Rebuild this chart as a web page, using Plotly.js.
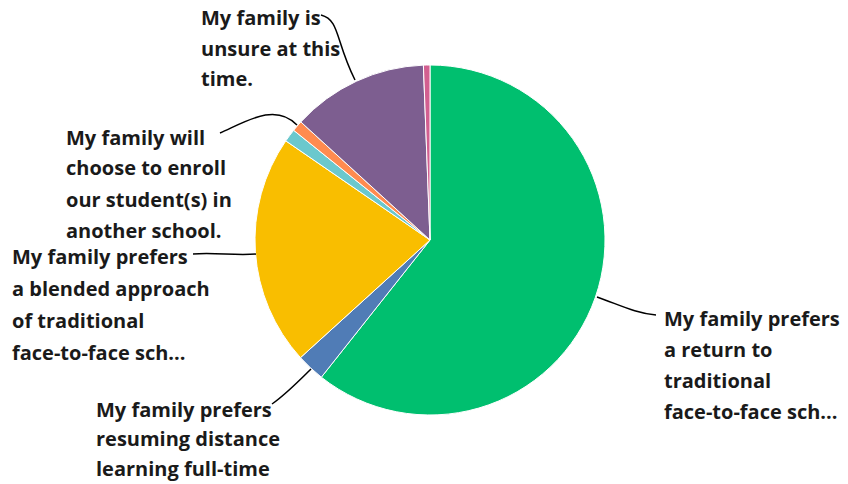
<!DOCTYPE html>
<html>
<head>
<meta charset="utf-8">
<script src="https://cdn.plot.ly/plotly-3.0.1.min.js"></script>
<style>html,body{margin:0;padding:0;background:#fff;}#chart{width:848px;height:484px;}</style>
</head>
<body>
<div id="chart"></div>
<script>
// Data
const categories = [
  "My family prefers a return to traditional face-to-face sch...",
  "My family prefers resuming distance learning full-time",
  "My family prefers a blended approach of traditional face-to-face sch...",
  "Other",
  "My family will choose to enroll our student(s) in another school.",
  "My family is unsure at this time.",
  "No response"
];
const values = [60.6, 2.6, 21.3, 1.2, 1.0, 12.6, 0.6];
const colors = ["#00BF6F", "#507CB6", "#F9BE00", "#6BC8CD", "#FF8B4F", "#7D5E90", "#D25F90"];

// Wrapped label lines (as shown)
const labelGreen = ["My family prefers", "a return to", "traditional", "face-to-face sch..."];
const labelBlue = ["My family prefers", "resuming distance", "learning full-time"];
const labelYellow = ["My family prefers", "a blended approach", "of traditional", "face-to-face sch..."];
const labelEnroll = ["My family will", "choose to enroll", "our student(s) in", "another school."];
const labelUnsure = ["My family is", "unsure at this", "time."];

const W = 848, H = 484;
const px = x => x / W;
const py = y => 1 - y / H;

const cx = 430, cy = 240, r = 175;

const annotations = [];
function addLabel(lines, x, y0, step) {
  lines.forEach((t, i) => {
    annotations.push({
      xref: 'paper', yref: 'paper', x: px(x), y: py(y0 + i * step),
      xanchor: 'left', yanchor: 'middle', showarrow: false, align: 'left',
      text: t,
      font: {family: '"Open Sans", sans-serif', size: 20, color: '#1a1a1a', weight: 700}
    });
  });
}
addLabel(labelGreen, 662, 318, 31);
addLabel(labelBlue, 94, 409, 29.5);
addLabel(labelYellow, 10, 256, 32);
addLabel(labelEnroll, 64, 137, 31);
addLabel(labelUnsure, 199, 17, 31);

function pathFrom(pts) {
  const p = pts.map(([x, y]) => [px(x), py(y)]);
  return `M ${p[0][0]},${p[0][1]} C ${p[1][0]},${p[1][1]} ${p[2][0]},${p[2][1]} ${p[3][0]},${p[3][1]}`;
}
const leaderLine = {color: '#000', width: 1.5};
const shapes = [
  {type: 'path', xref: 'paper', yref: 'paper', line: leaderLine,
   path: pathFrom([[597, 297], [620, 305], [635, 313], [656, 315]])},
  {type: 'path', xref: 'paper', yref: 'paper', line: leaderLine,
   path: pathFrom([[193, 254], [215, 252], [235, 256], [256, 254]])},
  {type: 'path', xref: 'paper', yref: 'paper', line: leaderLine,
   path: pathFrom([[272, 404], [285, 395], [300, 380], [311, 369]])},
  {type: 'path', xref: 'paper', yref: 'paper', line: leaderLine,
   path: pathFrom([[220, 133], [245, 122], [275, 102], [297, 125]])},
  {type: 'path', xref: 'paper', yref: 'paper', line: leaderLine,
   path: pathFrom([[321, 15], [340, 20], [335, 40], [355, 80]])}
];

const trace = {
  type: 'pie',
  labels: categories,
  values: values,
  sort: false,
  direction: 'clockwise',
  rotation: 0,
  textinfo: 'none',
  hoverinfo: 'none',
  marker: {colors: colors, line: {color: '#ffffff', width: 1}},
  domain: {x: [px(cx - r), px(cx + r)], y: [py(cy + r), py(cy - r)]},
  showlegend: false
};

const layout = {
  width: W, height: H,
  margin: {l: 0, r: 0, t: 0, b: 0},
  paper_bgcolor: '#fff',
  showlegend: false,
  annotations: annotations,
  shapes: shapes
};

Plotly.newPlot('chart', [trace], layout, {displayModeBar: false, staticPlot: true});
</script>
</body>
</html>
